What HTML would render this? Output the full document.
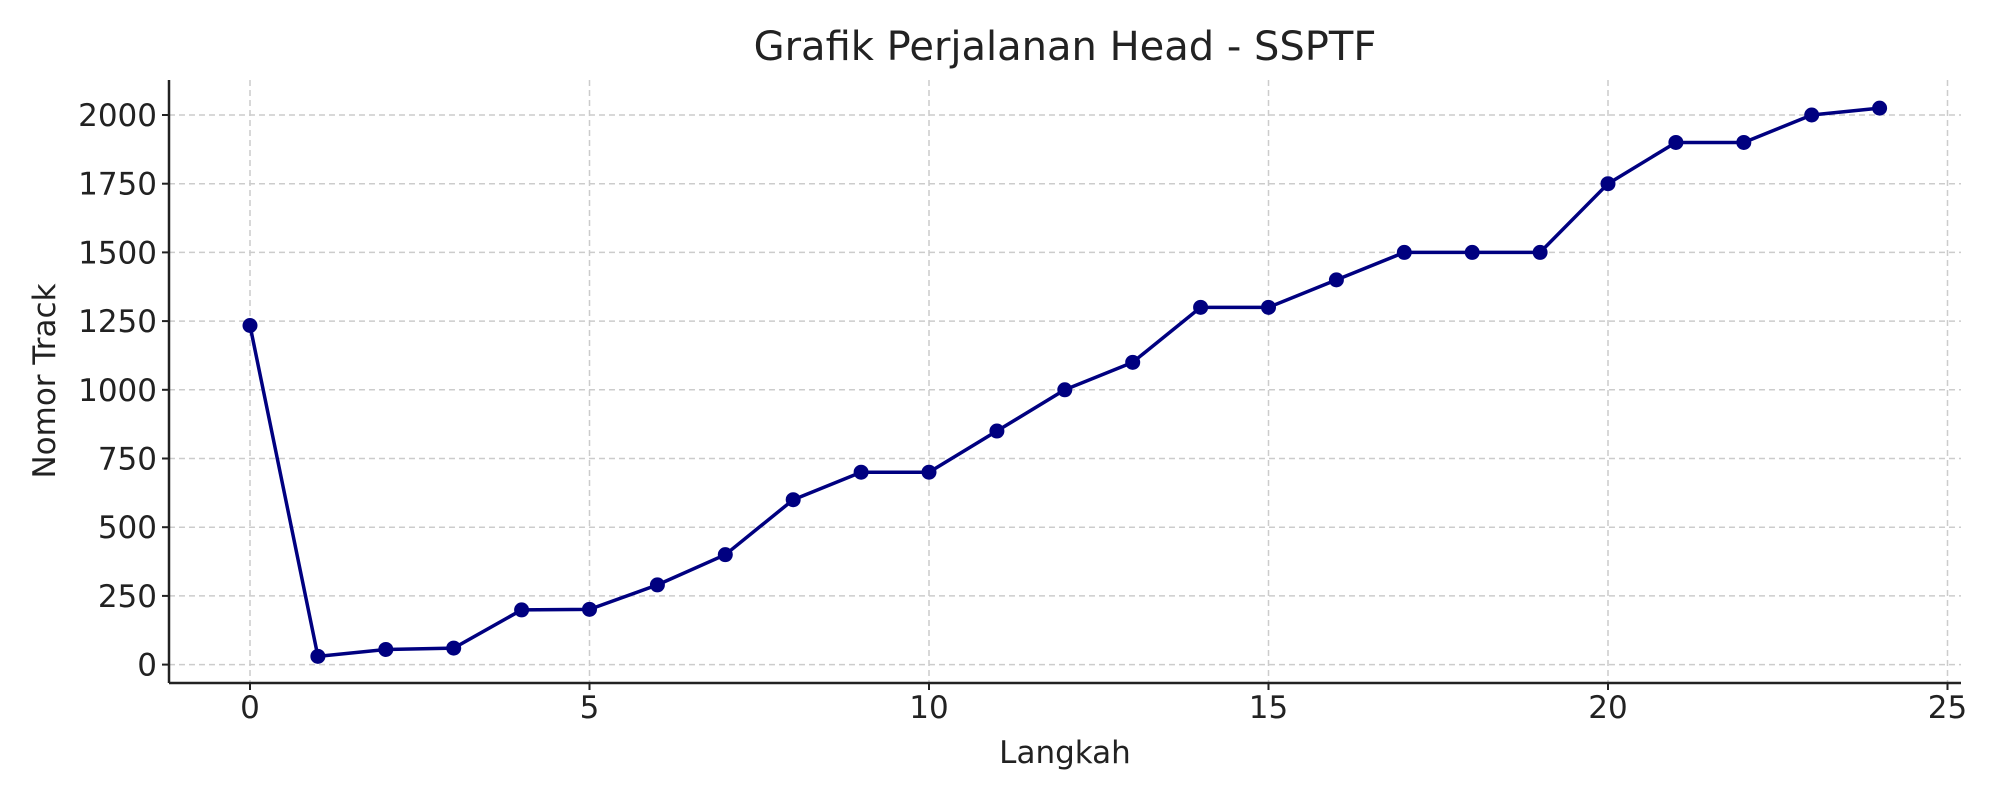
<!DOCTYPE html>
<html><head><meta charset="utf-8"><style>
body{margin:0;background:#fff}
svg text{font-family:"DejaVu Sans","Liberation Sans",sans-serif;fill:#222}
</style></head><body>
<svg id="chart" width="2000" height="800" viewBox="0 0 2000 800">
<text x="1065" y="60" font-size="40" text-anchor="middle" fill="#333">Grafik Perjalanan Head - SSPTF</text>
<g id="grid"></g><g id="ticks"></g><g id="series"></g>
<line x1="169" y1="80" x2="169" y2="683" stroke="#222" stroke-width="2.5"/>
<line x1="169" y1="683" x2="1961" y2="683" stroke="#222" stroke-width="2.5"/>
<text x="1065" y="763" font-size="31" text-anchor="middle">Langkah</text>
<text transform="translate(55,381) rotate(-90)" font-size="31" text-anchor="middle">Nomor Track</text>
</svg>
<script>
const steps=[0,1,2,3,4,5,6,7,8,9,10,11,12,13,14,15,16,17,18,19,20,21,22,23,24];
const tracks=[1234,30,55,60,199,201,290,400,600,700,700,850,1000,1100,1300,1300,1400,1500,1500,1500,1750,1900,1900,2000,2025];
const xTicks=[0,5,10,15,20,25];
const yTicks=[0,250,500,750,1000,1250,1500,1750,2000];
const NS='http://www.w3.org/2000/svg';
function X(v){return 250+v*67.9;}
function Y(v){return 664.6-v*0.2748;}
const grid=document.getElementById('grid'),ticks=document.getElementById('ticks'),series=document.getElementById('series');
function mk(tag,attrs,parent){const e=document.createElementNS(NS,tag);for(const k in attrs)e.setAttribute(k,attrs[k]);parent.appendChild(e);return e;}
xTicks.forEach(t=>{
 const g=mk('line',{x1:X(t),x2:X(t),y1:80,y2:683,stroke:'#ccc','stroke-width':1.5,'stroke-dasharray':'6,4'},grid);
 
 
 const tk=mk('line',{x1:X(t),x2:X(t),y1:683,y2:690,stroke:'#222','stroke-width':2},ticks);
 
 
 const tx=mk('text',{x:X(t),y:718,'font-size':31,'text-anchor':'middle'},ticks);
 tx.textContent=t;
 
 
});
yTicks.forEach(t=>{
 const g=mk('line',{x1:169,x2:1961,y1:Y(t),y2:Y(t),stroke:'#ccc','stroke-width':1.5,'stroke-dasharray':'6,4'},grid);
 
 
 const tk=mk('line',{x1:162,x2:169,y1:Y(t),y2:Y(t),stroke:'#222','stroke-width':2},ticks);
 
 
 const tx=mk('text',{x:157,y:Y(t)+11,'font-size':31,'text-anchor':'end'},ticks);
 tx.textContent=t;
 
 
});
const pts=steps.map((s,i)=>X(s)+','+Y(tracks[i])).join(' ');
const pl=mk('polyline',{points:pts,fill:'none',stroke:'#000080','stroke-width':3.5,'stroke-linejoin':'round'},series);


steps.forEach((s,i)=>{
 const c=mk('circle',{cx:X(s),cy:Y(tracks[i]),r:7.5,fill:'#000080'},series);
 
 
});
</script>
</body></html>
